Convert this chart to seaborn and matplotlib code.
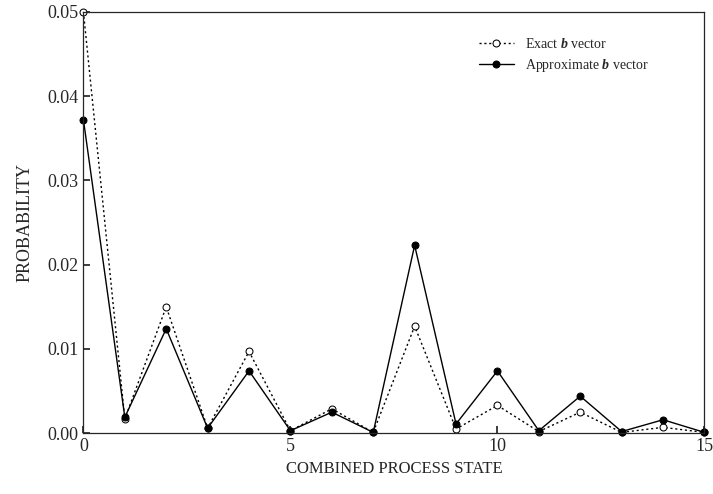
import matplotlib
matplotlib.use("Agg")
import matplotlib.pyplot as plt
import pandas as pd
import seaborn as sns

states = list(range(16))
exact_b = [0.0500, 0.0017, 0.0150, 0.0006, 0.0097, 0.0003, 0.0029, 0.0001,
           0.0127, 0.0005, 0.0033, 0.0002, 0.0025, 0.0001, 0.0007, 0.0001]
approx_b = [0.0372, 0.0019, 0.0124, 0.0006, 0.0074, 0.0003, 0.0025, 0.0001,
            0.0223, 0.0011, 0.0074, 0.0003, 0.0044, 0.0002, 0.0016, 0.0001]

sns.set_theme(style="ticks")
plt.rcParams["font.family"] = ["Liberation Serif", "DejaVu Serif"]
plt.rcParams["mathtext.fontset"] = "custom"
plt.rcParams["mathtext.bfit"] = "Liberation Serif:bold:italic"

df = pd.DataFrame({"state": states, "exact": exact_b, "approx": approx_b})

fig, ax = plt.subplots(figsize=(7.13, 4.94), dpi=100)
fig.subplots_adjust(left=0.117, right=0.988, top=0.976, bottom=0.123)

sns.lineplot(data=df, x="state", y="exact", ax=ax, color="black", lw=1,
             linestyle=(0, (1.5, 2)), marker="o", markerfacecolor="white",
             markeredgecolor="black", markersize=5, clip_on=False,
             label=r"Exact $\boldsymbol{b}$ vector")
sns.lineplot(data=df, x="state", y="approx", ax=ax, color="black", lw=1,
             marker="o", markerfacecolor="black", markeredgecolor="black",
             markersize=5, clip_on=False, label=r"Approximate $\boldsymbol{b}$ vector")

ax.set_xlim(0, 15)
ax.set_ylim(0, 0.05)
ax.set_xticks([0, 5, 10, 15])
ax.set_yticks([0, 0.01, 0.02, 0.03, 0.04, 0.05])
ax.set_yticklabels(["0.00", "0.01", "0.02", "0.03", "0.04", "0.05"])
ax.tick_params(direction="in", labelsize=13, length=5)
ax.set_xlabel("COMBINED PROCESS STATE", fontsize=12)
ax.set_ylabel("PROBABILITY", fontsize=13, labelpad=10)
for s in ax.spines.values():
    s.set_visible(True)
    s.set_linewidth(0.9)

ax.legend(loc="upper right", bbox_to_anchor=(0.93, 0.97), frameon=False,
          fontsize=10, handlelength=2.5, labelspacing=0.4)

fig.savefig("out.png", dpi=100)
